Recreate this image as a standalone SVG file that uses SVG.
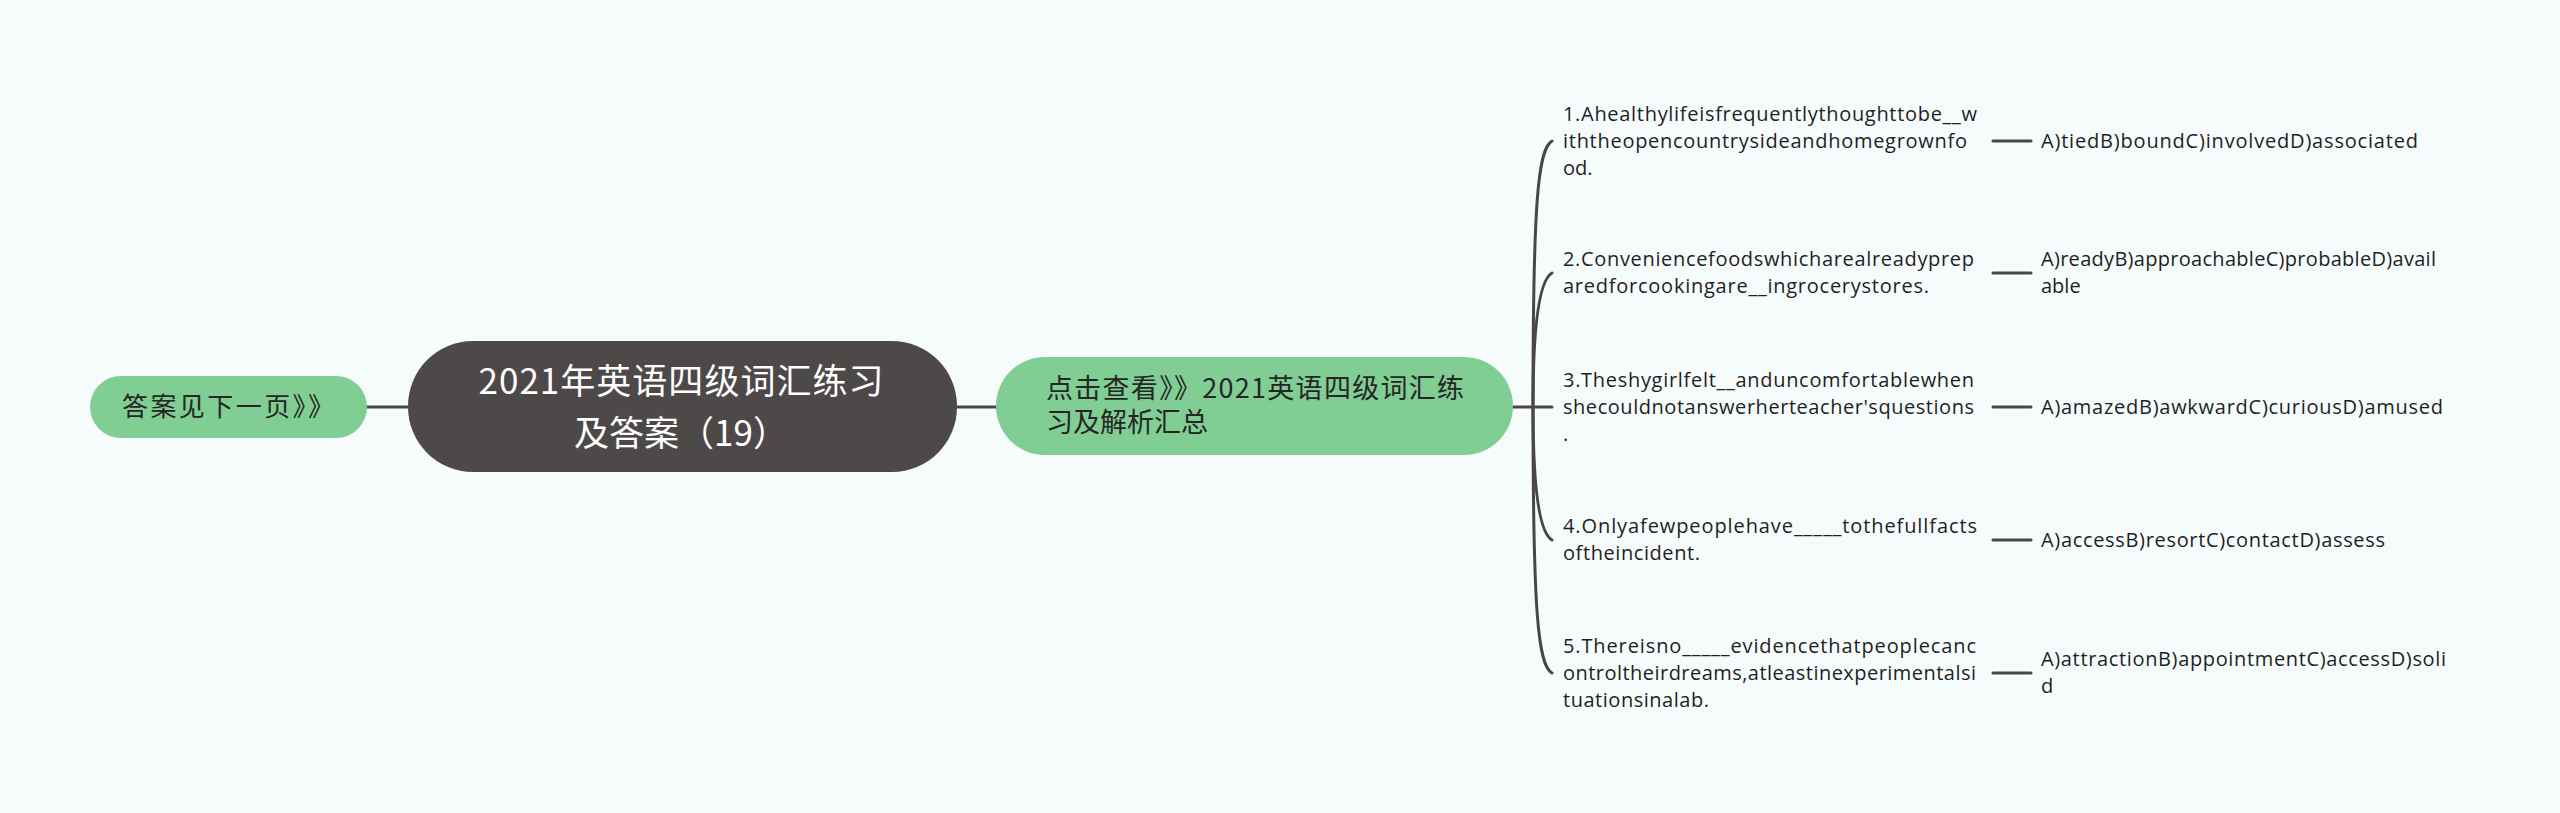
<svg xmlns="http://www.w3.org/2000/svg" width="2560" height="813" viewBox="0 0 2560 813">
<style>
.bg{fill:#f6fbfb}
.conn path{fill:none;stroke:#4b4646;stroke-width:3;stroke-linecap:round}
.green{fill:#80ce93}
.dark{fill:#4e4949}
.cjk{font-family:"Noto Sans CJK SC","Noto Sans",sans-serif}
.ttl{font-size:35px;fill:#ffffff}
.lbl{font-size:26px;fill:#262626}
.itm{font-family:"Open Sans","Noto Sans CJK SC",sans-serif;font-size:20px;fill:#1f1f1f}
</style>
<rect class="bg" x="0" y="0" width="2560" height="813"/>
<g id="connectors" class="conn">
<path d="M367,407 H408"/>
<path d="M957,407 H996"/>
<path d="M1513,407 H1552"/>
<path d="M1533,407 C1533,201 1538,149 1552,141"/>
<path d="M1533,407 C1533,333 1538,281 1552,273"/>
<path d="M1533,407 C1533,480 1538,532 1552,540"/>
<path d="M1533,407 C1533,613 1538,665 1552,673"/>
<path d="M1993,141 H2031"/>
<path d="M1993,273 H2031"/>
<path d="M1993,407 H2031"/>
<path d="M1993,540 H2031"/>
<path d="M1993,673 H2031"/>
</g>
<g id="node-left">
<rect class="green" x="90" y="376" width="277" height="62" rx="31"/>
<text class="cjk lbl" x="122" y="416" textLength="212">答案见下一页》》</text>
</g>
<g id="node-root">
<rect class="dark" x="408" y="341" width="549" height="131" rx="65"/>
<text class="cjk ttl" x="681" y="394" text-anchor="middle" textLength="405">2021年英语四级词汇练习</text>
<text class="cjk ttl" x="681" y="446" text-anchor="middle">及答案（19）</text>
</g>
<g id="node-link">
<rect class="green" x="996" y="357" width="517" height="98" rx="49"/>
<text class="cjk lbl" x="1046" y="398" style="font-size:27px" textLength="418">点击查看》》2021英语四级词汇练</text>
<text class="cjk lbl" x="1046" y="432" style="font-size:27px">习及解析汇总</text>
</g>
<g id="q1">
<text class="itm" x="1563" y="121" textLength="414">1.Ahealthylifeisfrequentlythoughttobe__w</text>
<text class="itm" x="1563" y="148" textLength="404">iththeopencountrysideandhomegrownfo</text>
<text class="itm" x="1563" y="175">od.</text>
</g>
<g id="a1">
<text class="itm" x="2041" y="148" textLength="377">A)tiedB)boundC)involvedD)associated</text>
</g>
<g id="q2">
<text class="itm" x="1563" y="266" textLength="411">2.Conveniencefoodswhicharealreadyprep</text>
<text class="itm" x="1563" y="293" textLength="366">aredforcookingare__ingrocerystores.</text>
</g>
<g id="a2">
<text class="itm" x="2041" y="266" textLength="395">A)readyB)approachableC)probableD)avail</text>
<text class="itm" x="2041" y="293">able</text>
</g>
<g id="q3">
<text class="itm" x="1563" y="387" textLength="411">3.Theshygirlfelt__anduncomfortablewhen</text>
<text class="itm" x="1563" y="414" textLength="411">shecouldnotanswerherteacher'squestions</text>
<text class="itm" x="1563" y="441">.</text>
</g>
<g id="a3">
<text class="itm" x="2041" y="414" textLength="402">A)amazedB)awkwardC)curiousD)amused</text>
</g>
<g id="q4">
<text class="itm" x="1563" y="533" textLength="414">4.Onlyafewpeoplehave_____tothefullfacts</text>
<text class="itm" x="1563" y="560" textLength="137">oftheincident.</text>
</g>
<g id="a4">
<text class="itm" x="2041" y="547" textLength="344">A)accessB)resortC)contactD)assess</text>
</g>
<g id="q5">
<text class="itm" x="1563" y="653" textLength="413">5.Thereisno_____evidencethatpeoplecanc</text>
<text class="itm" x="1563" y="680" textLength="413">ontroltheirdreams,atleastinexperimentalsi</text>
<text class="itm" x="1563" y="707" textLength="146">tuationsinalab.</text>
</g>
<g id="a5">
<text class="itm" x="2041" y="666" textLength="405">A)attractionB)appointmentC)accessD)soli</text>
<text class="itm" x="2041" y="693">d</text>
</g>
</svg>
